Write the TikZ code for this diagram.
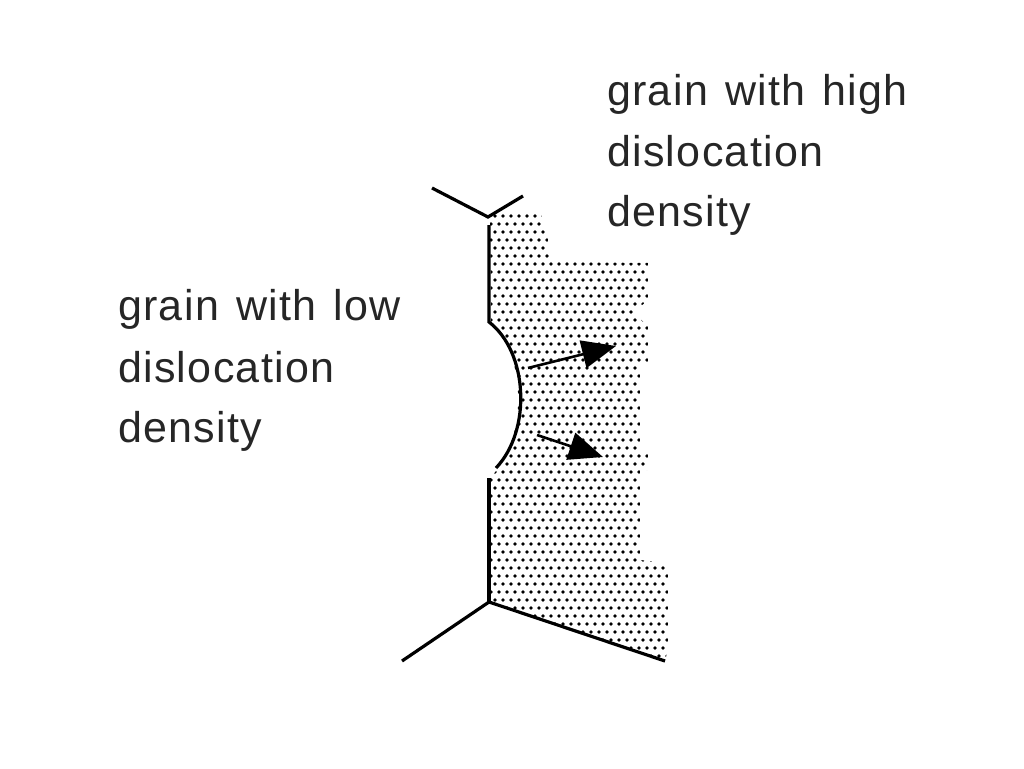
\documentclass[tikz,border=0pt]{standalone}
\usepackage{fontspec}
\setmainfont{Liberation Sans}[LetterSpace=3,WordSpace=1.3]
\usetikzlibrary{arrows.meta}
\begin{document}
\begin{tikzpicture}[x=1pt,y=-1pt,
  bnd/.style={line width=3.2pt},
  lbl/.style={font=\fontsize{43}{61}\selectfont,align=left,inner sep=0pt,anchor=base west,text=black!85},
  arr/.style={line width=2.6pt,-{Triangle[length=34pt,width=28pt]}}]
\useasboundingbox (0,0) rectangle (1024,768);
% stipple region
\begin{scope}
\clip (490,215) -- (540,210) -- (548,240) -- (550,262) -- (648,263) -- (648,300) -- (634,312) -- (648,327) -- (648,363) -- (640,367) -- (640,453) -- (648,453) -- (648,470) -- (640,470) -- (640,560) -- (668,563) -- (668,647) -- (665,662) -- (490,602) -- (490,478) -- (497,470) .. controls (528,430) and (524,352) .. (491,322) -- cycle;
\foreach \j in {0,...,58}{
  \pgfmathsetmacro{\yy}{208+\j*8}
  \pgfmathsetmacro{\off}{mod(\j,2)*4}
  \foreach \i in {0,...,24}{
    \fill (491+\off+\i*8,\yy) circle (1.8);
  }
}
\end{scope}
% boundaries
\coordinate (tl) at (432,188);
\coordinate (tj) at (488,217);
\coordinate (tr) at (523,196);
\coordinate (v1) at (489,225);
\coordinate (a1) at (489,322);
\coordinate (a2) at (496,468);
\coordinate (v2) at (489,478);
\coordinate (bj) at (489,602);
\coordinate (bl) at (402,661);
\coordinate (br) at (665,661);
\draw[bnd] (tl) -- (tj) -- (tr);
\draw[bnd] (v1) -- (a1) .. controls (528,352) and (532,430) .. (a2);
\draw[bnd] (v2) -- (bj);
\draw[bnd] (bl) -- (bj) -- (br);
% arrows
\coordinate (s1) at (528,368); \coordinate (e1) at (616,346);
\coordinate (s2) at (537,435); \coordinate (e2) at (603,457);
\draw[arr] (s1) -- (e1);
\draw[arr] (s2) -- (e2);
% labels
\node[lbl] (hi) at (607,105) {grain with high};
\node[lbl] (hi2) at (607,166) {dislocation};
\node[lbl] (hi3) at (607,226) {density};
\node[lbl] (lo) at (118,320) {grain with low};
\node[lbl] (lo2) at (118,382) {dislocation};
\node[lbl] (lo3) at (118,442) {density};
\end{tikzpicture}
\end{document}
